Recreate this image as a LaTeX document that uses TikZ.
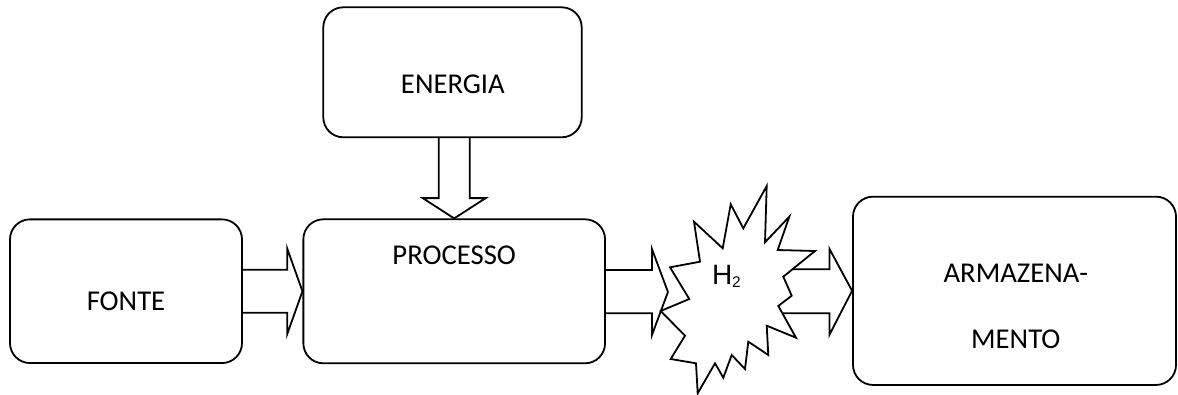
\documentclass[tikz,border=0pt]{standalone}
\usepackage{fontspec}
\setmainfont{Carlito}
\newfontfamily\hfont{Liberation Sans}
\usetikzlibrary{calc}
\begin{document}
\begin{tikzpicture}[x=1pt,y=-1pt,
  box/.style={draw, rounded corners=20pt, line width=1.8pt, inner sep=0pt},
  blk/.style={draw, line width=1.8pt, line join=miter},
  lbl/.style={anchor=base, inner sep=0pt, font=\fontsize{28.7}{34}\selectfont},
  burst/.style={draw, fill=white, line width=1.8pt, line join=miter}]
\useasboundingbox (0,0) rectangle (1178,394);

% boxes
\node[box, minimum width=232pt, minimum height=143.7pt] (fonte) at (126,291.2) {};
\node[box, minimum width=301.7pt, minimum height=144pt] (proc) at (454.2,291.3) {};
\node[box, minimum width=258.4pt, minimum height=130pt] (energia) at (452.5,72.3) {};
\node[box, minimum width=323pt, minimum height=188.3pt] (armaz) at (1014.5,290.8) {};

% labels
\node[lbl] (tfonte) at (126,310) {FONTE};
\node[lbl] (tproc) at (454.2,264) {PROCESSO};
\node[lbl] (tenergia) at (452.9,93.3) {ENERGIA};
\node[lbl] (tarm1) at (1015.8,282.3) {ARMAZENA-};
\node[lbl] (tarm2) at (1015.8,348.3) {MENTO};

% FONTE -> PROCESSO
\draw[blk] ($(fonte.east)+(0,-21.5)$) -| ($(proc.west)+(-15.3,-43)$) -- (proc.west)
  -- ($(proc.west)+(-15.3,43)$) |- ($(fonte.east)+(0,21.5)$);

% ENERGIA -> PROCESSO
\coordinate (e2) at (energia.south -| proc.north);
\draw[blk] ($(e2)+(-15.5,0)$) -- ($(proc.north)+(-15.5,-20.3)$) -- ($(proc.north)+(-31.5,-20.3)$)
  -- (proc.north) -- ($(proc.north)+(31.5,-20.3)$) -- ($(proc.north)+(15.5,-20.3)$) -- ($(e2)+(15.5,0)$);

% H2 -> ARMAZENAMENTO (shaft starts under the burst)
\coordinate (a4s) at ($(armaz.west)+(-80,0)$);
\draw[blk] ($(a4s)+(0,-21.5)$) -| ($(armaz.west)+(-22.7,-42)$) -- (armaz.west)
  -- ($(armaz.west)+(-22.7,44)$) |- ($(a4s)+(0,22.5)$);

% burst
\draw[burst] (766.7,186) -- (765,242.3) -- (789.3,216.7) -- (777.7,250) -- (815,251)
  -- (783.3,276.7) -- (791.7,295.7) -- (778.3,306) -- (796,337.7) -- (766.7,325.7)
  -- (768.3,355) -- (748.3,341.7) -- (745,369) -- (731.7,355) -- (723.3,377.7)
  -- (715,363.3) -- (697.7,393.3) -- (696,363.3) -- (670.7,359) -- (685,335.7)
  -- (660.7,311) -- (689.3,299) -- (670,267.3) -- (700,261.7) -- (694,221.7)
  -- (722.7,248.3) -- (730.7,204.3) -- (743.3,228.3) -- cycle;
\node[anchor=base west, inner sep=0pt] (h2) at (711.8,284.3)
  {\hfont\fontsize{28}{34}\selectfont H\raisebox{-3.4pt}{\fontsize{15.4}{18}\selectfont 2}};

% PROCESSO -> H2
\coordinate (a3t) at ($(proc.east)+(62,0.7)$);
\draw[blk] ($(proc.east)+(0,-21.3)$) -| ($(a3t)+(-16,-43)$) -- (a3t)
  -- ($(a3t)+(-16,43)$) |- ($(proc.east)+(0,22)$);
\end{tikzpicture}
\end{document}
